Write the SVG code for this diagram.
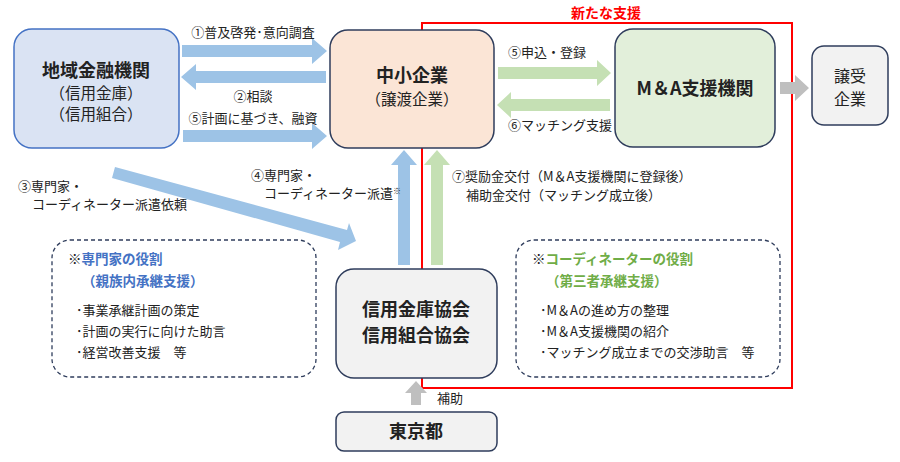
<svg xmlns="http://www.w3.org/2000/svg" width="900" height="462" viewBox="0 0 900 462">
<style>
text{font-family:"Noto Sans CJK JP","Noto Sans",sans-serif;fill:#222}
.l{font-size:13px}
.b{font-weight:bold}
.box{stroke:#2f3d5c;stroke-width:1.5}
.blue{fill:#9dc3e6}.green{fill:#c5e0b4}.gray{fill:#bfbfbf}
.dash{fill:none;stroke:#2f3d5c;stroke-width:1.3;stroke-dasharray:4 3}
</style>
<rect x="422" y="23" width="370" height="365" fill="none" stroke="#ff0000" stroke-width="2"/>
<text x="606" y="18" text-anchor="middle" class="b" style="fill:#ff0000;font-size:14px">新たな支援</text>
<g id="connectors">
<polygon class="blue" points="182,45 312,45 312,38 327,51 312,64 312,57 182,57"/>
<polygon class="blue" points="326,71 196,71 196,64 181,77 196,90 196,83 326,83"/>
<polygon class="blue" points="183,130 312,130 312,123 327,136 312,149 312,142 183,142"/>
<polygon class="blue" points="115,167 347,230 349,223 356,241 338,250 340,242 112,178"/>
<polygon class="blue" points="398,265 398,165 391,165 404,150 417,165 410,165 410,265"/>
<polygon class="green" points="431,265 431,165 424,165 437,150 450,165 443,165 443,265"/>
<polygon class="green" points="498,67 597,67 597,60 611,73 597,86 597,79 498,79"/>
<polygon class="green" points="610,99 511,99 511,92 497,105 511,118 511,111 610,111"/>
<polygon class="gray" points="780,82 795,82 795,75 809,88 795,101 795,94 780,94"/>
<polygon class="gray" points="411,405 411,393 405,393 416,381 427,393 421,393 421,405"/>
</g>
<text x="253" y="37" text-anchor="middle" class="l">①普及啓発･意向調査</text>
<text x="253" y="101" text-anchor="middle" class="l">②相談</text>
<text x="253" y="123" text-anchor="middle" class="l">⑤計画に基づき、融資</text>
<text x="18" y="191" class="l">③専門家・</text>
<text x="32" y="209" class="l">コーディネーター派遣依頼</text>
<text x="251" y="180" class="l">④専門家・</text>
<text x="264" y="198" class="l">コーディネーター派遣<tspan style="font-size:8px" dy="-4">※</tspan></text>
<text x="508" y="57" class="l">⑤申込・登録</text>
<text x="508" y="130" class="l">⑥マッチング支援</text>
<text x="452" y="181" class="l">⑦奨励金交付（M＆A支援機関に登録後）</text>
<text x="466" y="200" class="l">補助金交付（マッチング成立後）</text>
<text x="437" y="403" class="l">補助</text>
<g id="chiiki"><rect x="14" y="29" width="165" height="119" rx="18" fill="#dae3f3" stroke="#4472c4" stroke-width="1.5"/>
<text x="96" y="77" text-anchor="middle" class="b" style="font-size:18px">地域金融機関</text>
<text x="96" y="99" text-anchor="middle" style="font-size:15.5px">（信用金庫）</text>
<text x="96" y="120" text-anchor="middle" style="font-size:15.5px">（信用組合）</text></g>
<g id="chusho"><rect x="330" y="30" width="164" height="118" rx="18" fill="#fbe5d6" class="box"/>
<text x="412" y="82" text-anchor="middle" class="b" style="font-size:18px">中小企業</text>
<text x="412" y="105" text-anchor="middle" style="font-size:15.5px">（譲渡企業）</text></g>
<g id="ma"><rect x="615" y="29" width="160" height="118" rx="18" fill="#e2efda" class="box"/>
<text x="695" y="95" text-anchor="middle" class="b" style="font-size:18px">M＆A支援機関</text></g>
<g id="joju"><rect x="812" y="46" width="76" height="79" rx="12" fill="#f2f2f2" class="box"/>
<text x="850" y="82" text-anchor="middle" style="font-size:16px">譲受</text>
<text x="850" y="105" text-anchor="middle" style="font-size:16px">企業</text></g>
<g id="kyokai"><rect x="336" y="269" width="161" height="109" rx="18" fill="#f2f2f2" class="box"/>
<text x="416" y="316" text-anchor="middle" class="b" style="font-size:18px">信用金庫協会</text>
<text x="416" y="342" text-anchor="middle" class="b" style="font-size:18px">信用組合協会</text></g>
<g id="tokyo"><rect x="336" y="412" width="161" height="39" rx="8" fill="#f2f2f2" class="box"/>
<text x="416" y="438" text-anchor="middle" class="b" style="font-size:18px">東京都</text></g>
<g id="senmon"><rect x="52" y="240" width="264" height="137" rx="18" class="dash"/>
<text x="68" y="264" class="b" style="font-size:13.5px;fill:#4472c4"><tspan style="fill:#222">※</tspan>専門家の役割</text>
<text x="82" y="286" class="b" style="font-size:13.5px;fill:#4472c4">（親族内承継支援）</text>
<text x="76" y="315" class="l">･事業承継計画の策定</text>
<text x="76" y="336" class="l">･計画の実行に向けた助言</text>
<text x="76" y="357" class="l">･経営改善支援　等</text></g>
<g id="coord"><rect x="516" y="240" width="264" height="137" rx="18" class="dash"/>
<text x="532" y="264" class="b" style="font-size:13.5px;fill:#70ad47"><tspan style="fill:#222">※</tspan>コーディネーターの役割</text>
<text x="546" y="286" class="b" style="font-size:13.5px;fill:#70ad47">（第三者承継支援）</text>
<text x="540" y="315" class="l">･M＆Aの進め方の整理</text>
<text x="540" y="336" class="l">･M＆A支援機関の紹介</text>
<text x="540" y="357" class="l">･マッチング成立までの交渉助言　等</text></g>
</svg>
